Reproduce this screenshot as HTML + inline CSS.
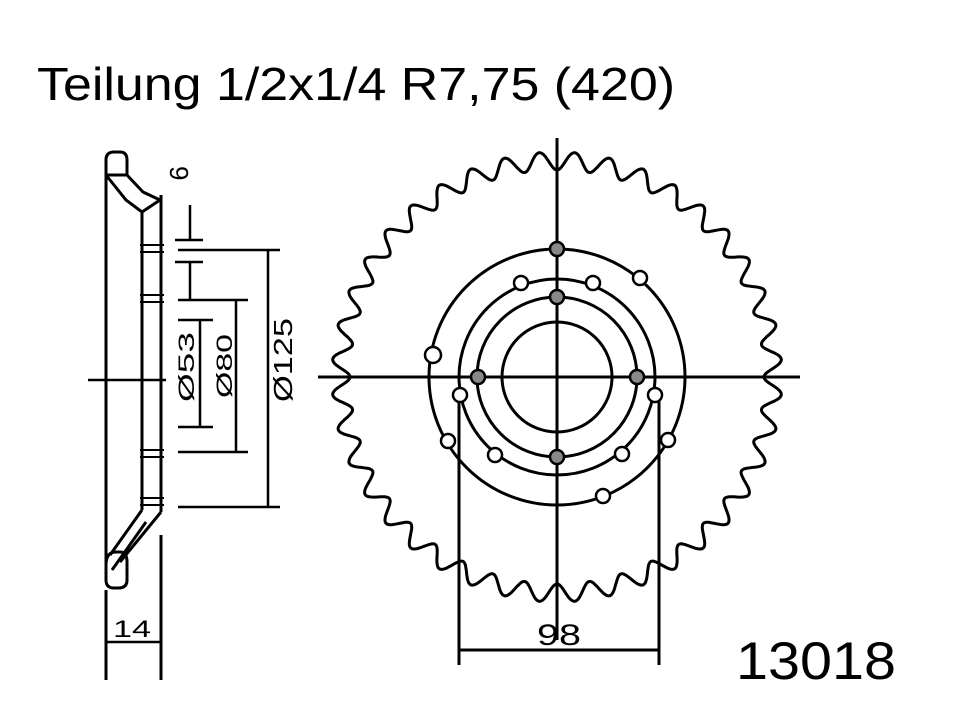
<!DOCTYPE html>
<html><head><meta charset="utf-8"><style>
html,body{margin:0;padding:0;background:#fff;}
svg{display:block;}
text{font-family:"Liberation Sans",sans-serif;fill:#000;}
</style></head><body>
<svg id="s" width="960" height="702" viewBox="0 0 960 702" xmlns="http://www.w3.org/2000/svg">
<text x="37" y="100" font-size="46" textLength="638" lengthAdjust="spacingAndGlyphs">Teilung 1/2x1/4 R7,75 (420)</text>
<text x="736" y="679" font-size="53" textLength="160" lengthAdjust="spacingAndGlyphs">13018</text>
<text x="537" y="645" font-size="30" textLength="44" lengthAdjust="spacingAndGlyphs">98</text>
<text x="113" y="637" font-size="24" textLength="38" lengthAdjust="spacingAndGlyphs">14</text>

<g fill="none" stroke="#000" stroke-width="3">
 <path d="M106 160 Q106 152 114 152 L120 152 Q127 152 127 160 L127 175 L106 175 Z"/>
 <path d="M106 165 L106 580"/>
 <path d="M106 175 L126 200 L142 212 L160 200"/>
 <path d="M127 175 L143 192 L160 200"/>
 <path d="M142 212 L142 510 M161 195 L161 512"/>
 <path d="M142 510 L110 555 M161 512 L120 562 M146 522 L112 570"/>
 <path d="M106 565 Q106 552 116 552 L120 552 Q127 552 127 562 L127 580 Q127 588 118 588 L114 588 Q106 588 106 580"/>
 <path d="M161 535 L161 680 M106 590 L106 680"/>
 <path d="M106 642 L161 642" stroke-width="2.5"/>
 <g stroke-width="2">
  <path d="M140 245h24M140 252h24M140 295h24M140 302h24M140 450h24M140 457h24M140 498h24M140 505h24"/>
 </g>
 <path d="M88 380 L166 380" stroke-width="2.5"/>
 <g stroke-width="2.5">
  <path d="M175 240h28 M175 262h28 M190 205v35 M190 262v38"/>
  <path d="M178 250h102 M178 507h102 M268 250v257"/>
  <path d="M178 300h70 M178 452h70 M236 300v152"/>
  <path d="M178 320h35 M178 427h35 M200 320v107"/>
 </g>
 <path id="gear" stroke-width="3"/>
 <path d="M557 138 L557 640" stroke-width="3"/>
 <path d="M318 377 L800 377" stroke-width="3"/>
 <circle cx="557" cy="377" r="128" stroke-width="3"/>
 <circle cx="557" cy="377" r="98" stroke-width="3"/>
 <circle cx="557" cy="377" r="80" stroke-width="3"/>
 <circle cx="557" cy="377" r="55" stroke-width="3"/>
 <path d="M459 395 L459 665 M659 395 L659 665 M459 650 L659 650" stroke-width="3"/>
 <g stroke-width="2.5" fill="#fff">
  <circle cx="557" cy="249" r="7" fill="#888"/>
  <circle cx="557" cy="297" r="7" fill="#888"/>
  <circle cx="557" cy="457" r="7" fill="#888"/>
  <circle cx="478" cy="377" r="7" fill="#888"/>
  <circle cx="637" cy="377" r="7" fill="#888"/>
  <circle cx="521" cy="283" r="7"/><circle cx="593" cy="283" r="7"/>
  <circle cx="460" cy="395" r="7"/><circle cx="655" cy="395" r="7"/>
  <circle cx="495" cy="455" r="7"/><circle cx="622" cy="454" r="7"/>
  <circle cx="433" cy="355" r="8"/><circle cx="640" cy="278" r="7"/>
  <circle cx="448" cy="441" r="7"/><circle cx="668" cy="440" r="7"/>
  <circle cx="603" cy="496" r="7"/>
 </g>
</g>
<g font-size="22">
 <text transform="translate(170,166) rotate(90)" font-size="26">9</text>
 <text transform="translate(194,402) rotate(-90)" textLength="70" lengthAdjust="spacingAndGlyphs">Ø53</text>
 <text transform="translate(232,398) rotate(-90)" textLength="64" lengthAdjust="spacingAndGlyphs">Ø80</text>
 <text transform="translate(292,402) rotate(-90)" font-size="26" textLength="84" lengthAdjust="spacingAndGlyphs">Ø125</text>
</g>
<script>
(function(){
 var cx=557,cy=377,N=40,Ro=225,Ri=207,d="";
 var per=30,steps=N*per;
 for(var i=0;i<=steps;i++){
  var a=i/steps*2*Math.PI;
  var ph=(i%per)/per;
  var v=0.5-0.5*Math.cos(ph*2*Math.PI);
  var r=Ri+(Ro-Ri)*v;
  var x=cx+r*Math.sin(a), y=cy-r*Math.cos(a);
  d+=(i?"L":"M")+x.toFixed(1)+" "+y.toFixed(1);
 }
 document.getElementById("gear").setAttribute("d",d+"Z");
})();
</script>
</svg>
</body></html>
